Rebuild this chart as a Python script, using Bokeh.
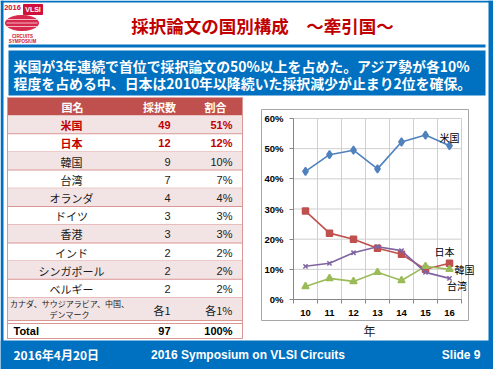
import math
from bokeh.plotting import figure
from bokeh.models import (Range1d, FixedTicker, PrintfTickFormatter, BoxAnnotation,
                          Label, PolyAnnotation, LinearAxis)
from bokeh.embed import file_html
from bokeh.resources import INLINE

# ---------------- data ----------------
years = [10, 11, 12, 13, 14, 15, 16]
us = [42.5, 48.0, 49.5, 43.3, 52.2, 54.5, 51.0]
japan = [29.3, 22.0, 20.0, 17.0, 15.0, 10.0, 12.0]
korea = [4.3, 7.0, 6.0, 9.0, 6.3, 11.0, 10.0]
taiwan = [11.0, 12.0, 15.5, 17.5, 16.2, 9.0, 7.0]
series_names = ["米国", "日本", "韓国", "台湾"]
y_ticks = [0, 10, 20, 30, 40, 50, 60]

table_header = ["国名", "採択数", "割合"]
countries = ["米国", "日本", "韓国", "台湾", "オランダ", "ドイツ", "香港", "インド", "シンガポール", "ベルギー"]
counts = ["49", "12", "9", "7", "4", "3", "3", "2", "2", "2"]
shares = ["51%", "12%", "10%", "7%", "4%", "3%", "3%", "2%", "2%", "2%"]
others_lines = ["カナダ、サウジアラビア、中国、", "デンマーク"]
others_count = "各1"
others_share = "各1%"
total_label, total_count, total_share = "Total", "97", "100%"

title_text = "採択論文の国別構成　～牽引国～"
summary_lines = ["米国が3年連続で首位で採択論文の50%以上を占めた。アジア勢が各10%",
                 "程度を占める中、日本は2010年以降続いた採択減少が止まり2位を確保。"]
footer_date = "2016年4月20日"
footer_center = "2016 Symposium on VLSI Circuits"
footer_right = "Slide 9"
x_axis_title = "年"

# ---------------- styles ----------------
JP = "Noto Sans CJK JP"
EN = "Liberation Sans"
BLUE = "#0070C0"
DARKRED = "#C00000"
HEAD_RED = "#C0504D"
ROW_PINK = "#F2E4E4"
ROW_LINE = "#DA9694"
GRID = "#CFCFCF"
AXIS = "#868686"
colors = ["#4F81BD", "#C0504D", "#9BBB59", "#8064A2"]
markers = ["diamond", "square", "triangle", "x"]
msizes = [8, 6, 7, 6]

W, H = 493, 369
# chart plot area in canvas pixels
CL, CR, CT, CB = 293, 461, 118, 299
X0, X1 = years[0] - 0.5, years[-1] + 0.5
Y0, Y1 = y_ticks[0], y_ticks[-1]
xpp = (X1 - X0) / (CR - CL)
ypp = (Y1 - Y0) / (CB - CT)
cx_range = Range1d(X0 - CL * xpp, X1 + (W - CR) * xpp)
cy_range = Range1d(Y0 - (H - CB) * ypp, Y1 + CT * ypp)

p = figure(width=W, height=H, x_range=Range1d(0, W), y_range=Range1d(H, 0),
           output_backend="svg", toolbar_location=None,
           x_axis_location=None, y_axis_location=None, min_border=0)
p.extra_x_ranges = {"cx": cx_range}
p.extra_y_ranges = {"cy": cy_range}
p.outline_line_color = None
p.background_fill_color = "white"
p.border_fill_color = "white"
p.xgrid.visible = False
p.ygrid.visible = False


def box(l, t, r, b, fill=None, line=None, lw=1):
    p.add_layout(BoxAnnotation(left=l, right=r, top=t, bottom=b,
                               fill_color=fill if fill else "white",
                               fill_alpha=1 if fill else 0,
                               line_color=line if line else "white",
                               line_alpha=1 if line else 0, line_width=lw,
                               level="image"))


def text(x, y, s, size, color="black", bold=False, align="center", font=JP):
    p.add_layout(Label(x=x, y=y, text=s, text_font_size=f"{size}px",
                       text_color=color, text_font_style="bold" if bold else "normal",
                       text_align=align, text_baseline="middle", text_font=font))


# ---------------- slide frame ----------------
box(0, 0, 3, H, fill=BLUE)
box(488, 0, W, H, fill=BLUE)
box(0, 0, W, 2, fill=BLUE)

# ---------------- header ----------------
ex = [21.5 + 16.5 * math.cos(2 * math.pi * k / 40) for k in range(40)]
ey = [22.5 + 7.5 * math.sin(2 * math.pi * k / 40) for k in range(40)]
p.add_layout(PolyAnnotation(xs=ex, ys=ey,
                            fill_color="#D6284A", fill_alpha=1, line_color="#D6284A",
                            line_alpha=1, level="image"))
for yy in (19, 22.5, 26):
    box(6, yy - 0.4, 37, yy + 0.4, fill="#F4B6C2")
box(23, 4, 42, 14, fill="#D0103A", line="#D0103A")
text(32.5, 9.2, "VLSI", 7, "white", True, font=EN)
text(12, 7, "2016", 7.5, "#D0103A", True, font=EN)
text(22, 35.5, "CIRCUITS", 4.5, "#D0103A", True, font=EN)
text(22, 40.5, "SYMPOSIUM", 4.5, "#D0103A", True, font=EN)

text(262, 24.5, title_text, 17.5, DARKRED, True)
box(8, 44, 485, 47, fill=BLUE)
box(8, 50, 485, 95, fill=BLUE)
text(13, 65.5, summary_lines[0], 13.9, "white", True, align="left")
text(13, 82.5, summary_lines[1], 13.9, "white", True, align="left")

# ---------------- table ----------------
TL, TR = 6.5, 242.5
HT, HB = 97, 115
RH = 18.2
NAME_X, CNT_X, SHR_X = 71, 170, 232

box(TL, HT, TR, HB, fill=HEAD_RED)
text(72, 106.5, table_header[0], 11, "white", True)
text(159, 106.5, table_header[1], 11, "white", True)
text(215, 106.5, table_header[2], 11, "white", True)

for i, (c, n, s) in enumerate(zip(countries, counts, shares)):
    t = HB + i * RH
    b = t + RH
    if i % 2 == 0:
        box(TL, t, TR, b, fill=ROW_PINK)
    box(TL, b - 0.5, TR, b + 0.5, fill=ROW_LINE)
    ym = (t + b) / 2 + 0.5
    red = i < 2
    col = DARKRED if red else "#1A1A1A"
    text(NAME_X, ym, c, 11, col, red)
    text(CNT_X, ym, n, 11, col, red, align="right", font=EN)
    text(SHR_X, ym, s, 11, col, red, align="right", font=EN)

ot = HB + len(countries) * RH
ob = 320
box(TL, ot, TR, ob, fill=ROW_PINK)
text(69, 303, others_lines[0], 8, "#1A1A1A")
text(69, 313.5, others_lines[1], 8, "#1A1A1A")
text(CNT_X, 309, others_count, 11, "#1A1A1A", False, align="right")
text(SHR_X, 309, others_share, 11, "#1A1A1A", False, align="right")
box(TL, 319.5, TR, 320.5, fill=ROW_LINE)
box(TL, 322.5, TR, 323.5, fill=ROW_LINE)
box(TL, 337.5, TR, 338.5, fill=ROW_LINE)
text(13, 330.5, total_label, 11, "black", True, align="left", font=EN)
text(CNT_X, 330.5, total_count, 11, "black", True, align="right", font=EN)
text(SHR_X, 330.5, total_share, 11, "black", True, align="right", font=EN)
box(TL, HT, TL + 1, 338.5, fill=ROW_LINE)
box(TR - 1, HT, TR, 338.5, fill=ROW_LINE)

# ---------------- chart ----------------
box(261, 109, 468, 320, line="#A6A6A6", lw=1)
text(369, 330, x_axis_title, 12, "#1A1A1A")

boundaries = [y - 0.5 for y in years] + [years[-1] + 0.5]
p.segment(x0=boundaries, x1=boundaries, y0=[Y0] * len(boundaries), y1=[Y1] * len(boundaries),
          line_color=GRID, line_width=1, x_range_name="cx", y_range_name="cy", level="underlay")
p.segment(x0=[X0] * len(y_ticks), x1=[X1] * len(y_ticks), y0=y_ticks, y1=y_ticks,
          line_color=GRID, line_width=1, x_range_name="cx", y_range_name="cy", level="underlay")

xaxis = LinearAxis(x_range_name="cx", y_range_name="cy", fixed_location=Y0, bounds=(X0, X1),
                   ticker=FixedTicker(ticks=years, minor_ticks=boundaries))
xaxis.major_tick_out = 0
xaxis.major_tick_in = 0
xaxis.minor_tick_out = 4
xaxis.minor_tick_in = 0
xaxis.major_label_standoff = 6
yaxis = LinearAxis(x_range_name="cx", y_range_name="cy", fixed_location=X0, bounds=(Y0, Y1),
                   ticker=FixedTicker(ticks=y_ticks), formatter=PrintfTickFormatter(format="%d%%"))
yaxis.major_tick_out = 4
yaxis.major_tick_in = 0
yaxis.minor_tick_out = 0
yaxis.minor_tick_in = 0
yaxis.major_label_standoff = 6
for ax in (xaxis, yaxis):
    ax.axis_line_color = AXIS
    ax.major_tick_line_color = AXIS
    ax.minor_tick_line_color = AXIS
    ax.major_label_text_font = EN
    ax.major_label_text_font_style = "bold"
    ax.major_label_text_font_size = "9.5px"
    ax.major_label_text_color = "black"
p.add_layout(xaxis, "below")
p.add_layout(yaxis, "left")

all_series = [us, japan, korea, taiwan]
for vals, c, m, ms in zip(all_series, colors, markers, msizes):
    p.line(years, vals, line_color=c, line_width=1.6, x_range_name="cx", y_range_name="cy")
    p.scatter(years, vals, marker=m, size=ms, fill_color=c, line_color=c, line_width=1.5,
              x_range_name="cx", y_range_name="cy")

label_offsets = [(0, 8, "center"), (-5, 11.5, "center"), (5, 0, "left"), (7.5, -7, "center")]
for name, vals, (xo, yo, al) in zip(series_names, all_series, label_offsets):
    p.add_layout(Label(x=years[-1], y=vals[-1], x_offset=xo, y_offset=yo, text=name,
                       x_range_name="cx", y_range_name="cy",
                       text_font=JP, text_font_size="10px", text_color="black",
                       text_align=al, text_baseline="middle"))

# ---------------- footer ----------------
box(0, 340, W, H, fill=BLUE)
text(13, 354, footer_date, 12, "white", True, align="left")
text(247.5, 354, footer_center, 12, "white", True, font=EN)
text(480, 354, footer_right, 12, "white", True, align="right", font=EN)

open("out.html", "w").write(file_html(p, INLINE))
